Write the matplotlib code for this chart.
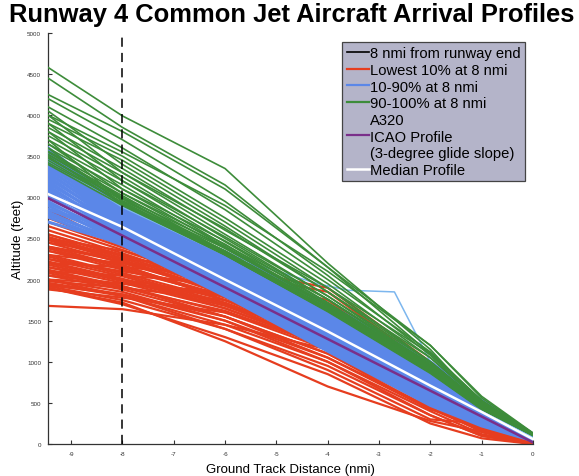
import matplotlib
matplotlib.use("Agg")
import matplotlib.pyplot as plt
from matplotlib.lines import Line2D

plt.rcParams['font.family'] = ['Liberation Sans', 'DejaVu Sans']

# Distance stations along the final approach (nmi, negative = before runway end)
STATIONS = [-9.45, -8, -6, -4, -2, -1, 0]

# Altitude (ft) of each arrival at the stations above
LOW_10 = [
    [1680, 1640, 1450, 1150, 520, 150, 0],
    [1900, 1700, 1300, 850, 250, 70, 0],
    [1920, 1750, 1400, 950, 350, 100, 0],
    [1950, 1800, 1450, 1000, 400, 120, 0],
    [1880, 1780, 1600, 1200, 500, 150, 0],
    [2000, 1850, 1500, 1050, 450, 150, 10],
    [2050, 1880, 1550, 1100, 480, 170, 10],
    [2100, 1920, 1600, 1150, 520, 180, 20],
    [2150, 1960, 1650, 1200, 550, 200, 20],
    [1980, 1900, 1750, 1350, 650, 250, 20],
    [2200, 2000, 1700, 1250, 600, 220, 20],
    [2250, 2040, 1700, 1150, 500, 200, 20],
    [2300, 2080, 1750, 1300, 650, 250, 30],
    [2350, 2120, 1800, 1350, 700, 280, 30],
    [2100, 2050, 1950, 1600, 800, 350, 30],
    [2400, 2160, 1800, 1300, 600, 230, 30],
    [2450, 2200, 1850, 1400, 700, 300, 30],
    [2500, 2240, 1850, 1450, 750, 320, 40],
    [2200, 2150, 2050, 1750, 900, 450, 40],
    [2550, 2280, 1900, 1450, 700, 300, 40],
    [2600, 2320, 1900, 1500, 780, 350, 40],
    [2650, 2360, 1950, 1550, 820, 380, 40],
    [2700, 2390, 1980, 1600, 850, 400, 50],
    [2750, 2410, 2000, 1550, 800, 370, 50],
    [2550, 2300, 1950, 1500, 760, 340, 40],
    [2850, 2400, 2050, 1700, 950, 480, 50],
    [2400, 2250, 2150, 1900, 1000, 500, 50],
    [2300, 2200, 2100, 1850, 950, 450, 40],
    [2500, 2350, 1950, 1400, 650, 280, 30],
    [2000, 1950, 1850, 1500, 700, 300, 20],
    [1930, 1820, 1500, 1000, 350, 100, 0],
    [2050, 1950, 1800, 1400, 600, 250, 20],
    [2150, 2000, 1800, 1300, 550, 220, 20],
    [2250, 2100, 1900, 1500, 750, 330, 30],
    [2350, 2180, 1750, 1250, 600, 250, 20],
    [2450, 2300, 1950, 1600, 850, 400, 40],
    [1900, 1720, 1250, 700, 280, 150, 0],
    [2000, 1800, 1400, 900, 300, 250, 0],
    [2120, 1920, 1550, 1050, 420, 260, 10],
    [2220, 2010, 1650, 1200, 500, 300, 20],
    [2520, 2260, 1880, 1380, 660, 290, 30],
    [2400, 2220, 1820, 1320, 620, 260, 30],
    [1960, 1820, 1550, 1100, 430, 160, 0],
    [2080, 1900, 1620, 1180, 500, 190, 10],
    [2180, 1980, 1680, 1220, 560, 230, 20],
    [2280, 2060, 1720, 1260, 600, 250, 20],
    [2380, 2140, 1780, 1330, 660, 270, 30],
    [2480, 2230, 1830, 1360, 680, 290, 30],
]

MID_80 = [
    [2760, 2420, 1800, 1130, 470, 220, 40],
    [2820, 2435, 1820, 1150, 490, 230, 45],
    [2900, 2450, 1830, 1170, 500, 240, 50],
    [2790, 2465, 1850, 1190, 520, 250, 50],
    [2950, 2480, 1870, 1200, 540, 260, 55],
    [2860, 2495, 1880, 1220, 550, 270, 55],
    [3020, 2510, 1900, 1240, 570, 280, 60],
    [2930, 2525, 1920, 1260, 590, 290, 60],
    [3080, 2540, 1930, 1270, 600, 300, 65],
    [2990, 2555, 1950, 1290, 620, 310, 65],
    [3140, 2570, 1970, 1310, 640, 320, 70],
    [3050, 2585, 1980, 1330, 650, 330, 70],
    [3200, 2600, 2000, 1340, 670, 340, 75],
    [3110, 2615, 2020, 1360, 690, 350, 75],
    [3260, 2630, 2030, 1380, 700, 360, 80],
    [3170, 2645, 2050, 1400, 720, 370, 80],
    [3310, 2660, 2070, 1410, 740, 380, 85],
    [3230, 2675, 2080, 1430, 750, 390, 85],
    [3360, 2690, 2100, 1450, 770, 400, 90],
    [3290, 2705, 2120, 1470, 790, 410, 90],
    [3410, 2720, 2130, 1480, 800, 420, 95],
    [3340, 2735, 2150, 1500, 820, 430, 95],
    [3460, 2750, 2170, 1520, 840, 440, 100],
    [3390, 2765, 2180, 1540, 850, 450, 100],
    [3510, 2780, 2200, 1550, 870, 460, 105],
    [3440, 2795, 2220, 1570, 890, 470, 105],
    [3550, 2810, 2230, 1590, 900, 480, 110],
    [3480, 2825, 2250, 1610, 920, 490, 110],
    [3600, 2840, 2270, 1620, 940, 500, 115],
    [3520, 2855, 2280, 1640, 950, 505, 115],
    [3580, 2870, 2300, 1660, 970, 510, 120],
    [3560, 2885, 2320, 1680, 990, 520, 120],
    [3600, 2900, 2340, 1700, 1000, 530, 120],
    [2700, 2440, 1860, 1180, 510, 245, 50],
    [2850, 2600, 2010, 1350, 680, 345, 75],
    [3000, 2760, 2190, 1530, 860, 445, 100],
]

# One 10-90% arrival that held altitude between 4 and 3 nmi
HOLD_NMI = [-9.45, -8, -6, -4.2, -3.6, -2.7, -2.0, -1.5, -1, 0]
HOLD_ALT = [3450, 2880, 2300, 1950, 1870, 1850, 1000, 650, 420, 80]

HIGH_10 = [
    [4580, 3990, 3350, 2200, 1150, 480, 120],
    [4450, 3850, 3150, 2150, 1100, 520, 125],
    [4250, 3800, 3100, 2150, 1200, 560, 130],
    [4200, 3700, 2950, 2050, 1080, 500, 120],
    [4100, 3600, 2850, 2000, 1120, 530, 125],
    [4000, 3550, 2900, 2100, 1200, 580, 135],
    [3950, 3500, 2750, 1950, 1050, 510, 120],
    [3900, 3450, 2700, 1900, 1000, 490, 120],
    [4050, 3400, 2650, 1850, 1000, 480, 115],
    [3850, 3350, 2600, 1900, 1100, 530, 125],
    [3800, 3300, 2550, 1800, 960, 470, 115],
    [3750, 3250, 2500, 1760, 940, 460, 115],
    [3700, 3200, 2460, 1720, 920, 450, 110],
    [3650, 3150, 2420, 1760, 960, 470, 115],
    [3600, 3100, 2400, 1680, 900, 440, 110],
    [3560, 3050, 2380, 1700, 920, 450, 110],
    [3520, 3020, 2340, 1640, 880, 430, 110],
    [3480, 2980, 2320, 1660, 900, 440, 110],
    [3700, 2950, 2300, 1620, 870, 430, 105],
    [3600, 2920, 2340, 1680, 950, 470, 115],
    [3400, 2900, 2300, 1620, 870, 430, 105],
    [3900, 3200, 2520, 1800, 1000, 490, 120],
    [4000, 3300, 2620, 1850, 1050, 500, 120],
    [3800, 3100, 2470, 1760, 980, 480, 115],
    [3550, 3000, 2400, 1720, 950, 460, 115],
    [3650, 3050, 2430, 1680, 910, 450, 110],
    [3450, 2930, 2320, 1640, 890, 440, 110],
    [3500, 2910, 2300, 1610, 860, 420, 105],
    [3420, 2940, 2350, 1650, 900, 440, 110],
    [3480, 2960, 2380, 1690, 930, 455, 110],
    [3520, 2990, 2330, 1630, 880, 430, 105],
]

ICAO_NMI = [-9.45, 0]
ICAO_ALT = [2990, 20]

MEDIAN_NMI = [-9.45, -8, -6, -4, -2, -1, 0]
MEDIAN_ALT = [3040, 2640, 2000, 1370, 710, 390, 60]

RUNWAY_OFFSET_NMI = -8

X_TICKS = [-9, -8, -7, -6, -5, -4, -3, -2, -1, 0]
Y_TICKS = [0, 500, 1000, 1500, 2000, 2500, 3000, 3500, 4000, 4500, 5000]

RED = '#e63d1f'
BLUE = '#5b87e8'
LIGHT_BLUE = '#7cb6ee'
GREEN = '#3d8c3a'
PURPLE = '#7a2f8a'

fig = plt.figure(figsize=(5.79, 4.77), dpi=100)
ax = fig.add_axes([0.083, 0.067, 0.8375, 0.862])

for alt in LOW_10:
    ax.plot(STATIONS, alt, color=RED, lw=1.6, zorder=2)
for alt in MID_80:
    ax.plot(STATIONS, alt, color=BLUE, lw=2.2, zorder=3)
ax.plot(HOLD_NMI, HOLD_ALT, color=LIGHT_BLUE, lw=1.1, zorder=3)
for alt in HIGH_10:
    ax.plot(STATIONS, alt, color=GREEN, lw=1.2, zorder=4)

ax.plot(ICAO_NMI, ICAO_ALT, color=PURPLE, lw=1.8, zorder=5)
ax.plot(MEDIAN_NMI, MEDIAN_ALT, color='white', lw=1.8, zorder=6)
ax.axvline(RUNWAY_OFFSET_NMI, color='black', lw=1.1, ls=(0, (6, 4)), zorder=7)

ax.set_xlim(-9.45, 0)
ax.set_ylim(0, 5000)
ax.set_xticks(X_TICKS)
ax.set_yticks(Y_TICKS)
ax.set_xticklabels([str(t) for t in X_TICKS])
ax.set_yticklabels([str(t) for t in Y_TICKS])
ax.tick_params(direction='in', length=3, width=0.8, labelsize=4.5,
               colors='#333333', pad=5)
for side in ('top', 'right'):
    ax.spines[side].set_visible(False)
for side in ('left', 'bottom'):
    ax.spines[side].set_color('#333333')
    ax.spines[side].set_linewidth(0.9)

ax.set_xlabel('Ground Track Distance (nmi)', fontsize=9.5, labelpad=5)
ax.set_ylabel('Altitude (feet)', fontsize=9.5, labelpad=2)

fig.text(0.503, 0.968, 'Runway 4 Common Jet Aircraft Arrival Profiles',
         ha='center', va='center', fontsize=18.4, fontweight='bold')

handles = [
    Line2D([], [], color='black', lw=1.2),
    Line2D([], [], color=RED, lw=1.6),
    Line2D([], [], color=BLUE, lw=1.6),
    Line2D([], [], color=GREEN, lw=1.6),
    Line2D([], [], color='none'),
    Line2D([], [], color=PURPLE, lw=1.6),
    Line2D([], [], color='none'),
    Line2D([], [], color='white', lw=1.8),
]
labels = [
    '8 nmi from runway end',
    'Lowest 10% at 8 nmi',
    '10-90% at 8 nmi',
    '90-100% at 8 nmi',
    'A320',
    'ICAO Profile',
    '(3-degree glide slope)',
    'Median Profile',
]
leg = ax.legend(handles, labels, loc='upper right', bbox_to_anchor=(0.984, 0.978),
                fontsize=10.6, frameon=True, fancybox=False, framealpha=1,
                facecolor='#b4b4c9', edgecolor='#444444',
                handlelength=1.5, handletextpad=0.1, labelspacing=0.18,
                borderpad=0.3, borderaxespad=0.0)
leg.get_frame().set_linewidth(0.9)
leg.set_zorder(10)

fig.savefig('out.png', dpi=100)
